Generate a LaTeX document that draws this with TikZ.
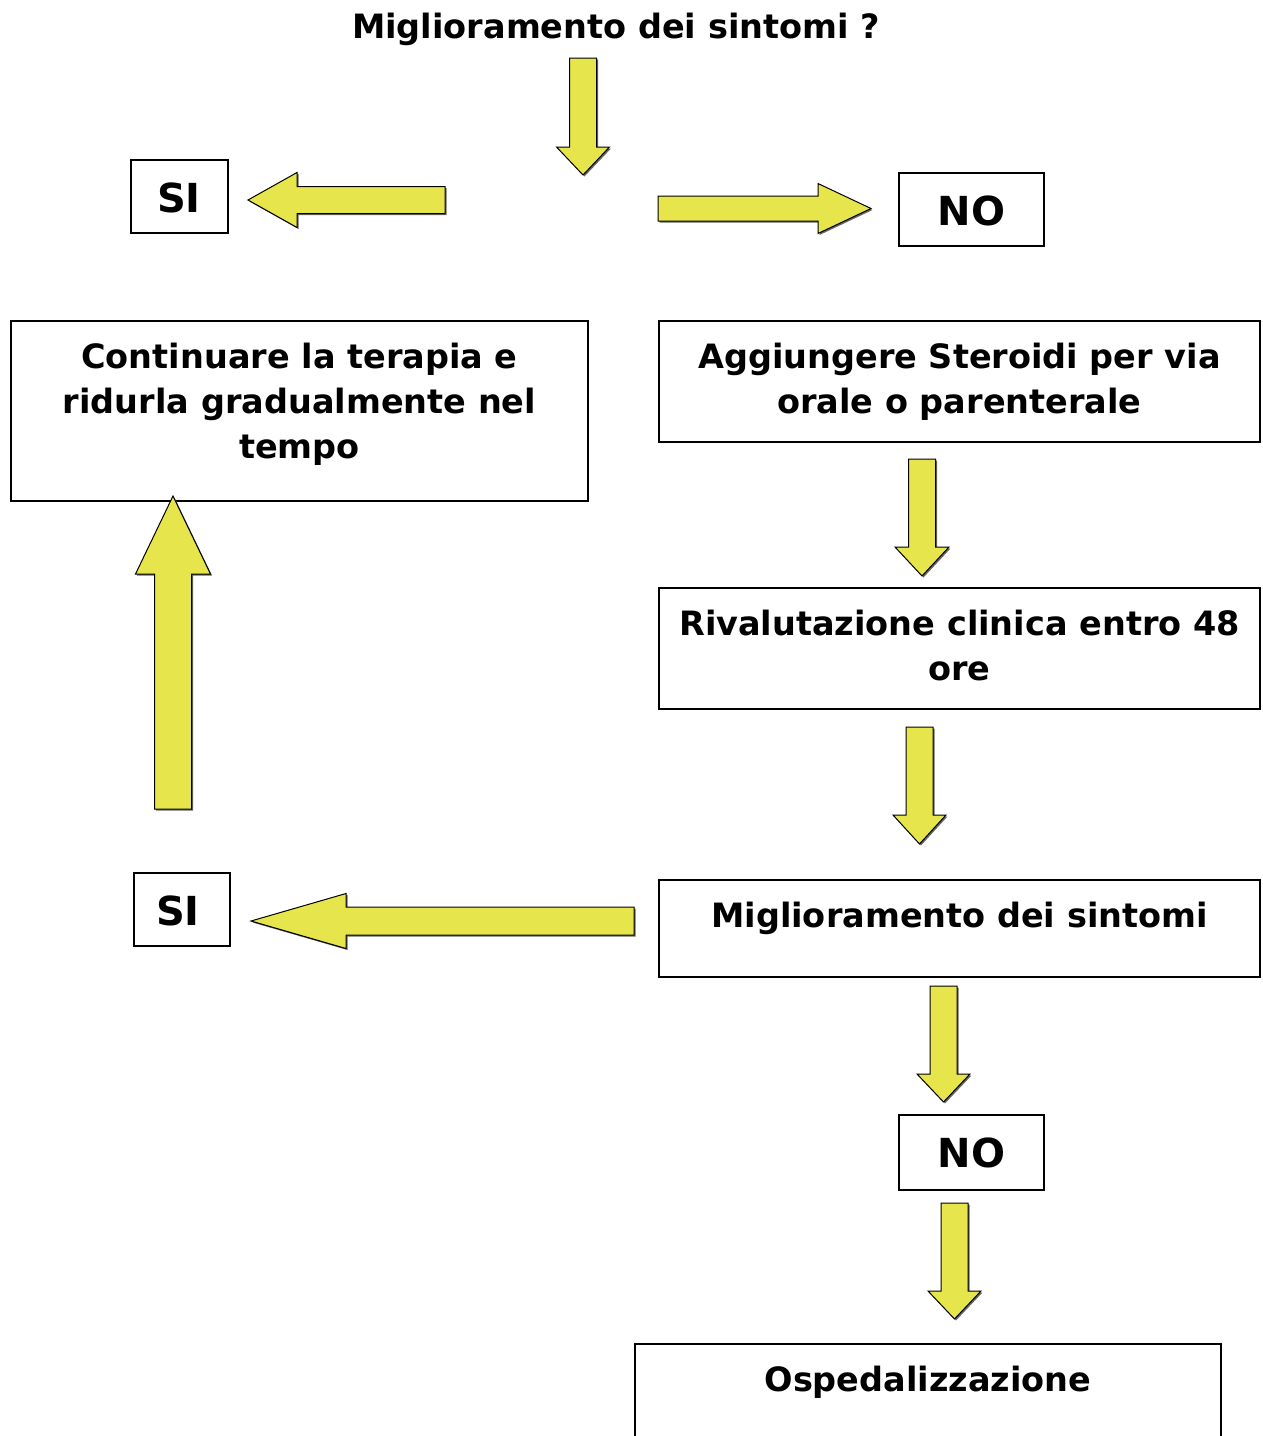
\documentclass[tikz,border=0pt]{standalone}
\usepackage{fontspec}
\setmainfont{DejaVu Sans}
\definecolor{arrowyellow}{HTML}{E6E64C}
\definecolor{shadowgray}{HTML}{666666}
\tikzset{
  arr/.style={fill=arrowyellow, draw=black, line width=1pt, line join=miter},
  arrshadow/.style={fill=shadowgray, draw=none},
  box/.style={draw=black, line width=2pt, fill=white},
  txt/.style={font=\fontsize{33.5}{45}\selectfont\bfseries, align=center, inner sep=0pt, anchor=north},
  yn/.style={font=\fontsize{40}{45}\selectfont\bfseries, inner sep=0pt},
}
% block arrows: vertical (x, tail y, tip y, shaft half, head half, head length signed)
\newcommand\barrowV[6]{%
  \draw[arrshadow] ({#1-#4+1.5},{#2+1.5}) -- ({#1+#4+1.5},{#2+1.5}) -- ({#1+#4+1.5},{#3-#6+1.5}) -- ({#1+#5+1.5},{#3-#6+1.5}) -- ({#1+1.5},{#3+1.5}) -- ({#1-#5+1.5},{#3-#6+1.5}) -- ({#1-#4+1.5},{#3-#6+1.5}) -- cycle;
  \draw[arr] ({#1-#4},{#2}) -- ({#1+#4},{#2}) -- ({#1+#4},{#3-#6}) -- ({#1+#5},{#3-#6}) -- ({#1},{#3}) -- ({#1-#5},{#3-#6}) -- ({#1-#4},{#3-#6}) -- cycle;}
% horizontal (y, tail x, tip x, shaft half, head half, head length signed)
\newcommand\barrowH[6]{%
  \draw[arrshadow] ({#2+1.5},{#1-#4+1.5}) -- ({#2+1.5},{#1+#4+1.5}) -- ({#3-#6+1.5},{#1+#4+1.5}) -- ({#3-#6+1.5},{#1+#5+1.5}) -- ({#3+1.5},{#1+1.5}) -- ({#3-#6+1.5},{#1-#5+1.5}) -- ({#3-#6+1.5},{#1-#4+1.5}) -- cycle;
  \draw[arr] ({#2},{#1-#4}) -- ({#2},{#1+#4}) -- ({#3-#6},{#1+#4}) -- ({#3-#6},{#1+#5}) -- ({#3},{#1}) -- ({#3-#6},{#1-#5}) -- ({#3-#6},{#1-#4}) -- cycle;}
\begin{document}
\begin{tikzpicture}[x=1pt, y=-1pt]
\useasboundingbox (0,0) rectangle (1263,1436);
\clip (0,0) rectangle (1263,1436);

% title
\node[txt] (title) at (616,13) {Miglioramento dei sintomi ?};

% boxes
\draw[box] (131,160) rectangle (228,233);
\node[yn] (si1) at (179,197.5) {SI};
\draw[box] (899,173) rectangle (1044,246);
\node[yn] (no1) at (971.5,211) {NO};

\draw[box] (11,321) rectangle (588,501);
\node[txt] (cont) at (299.5,343) {Continuare la terapia e\\ridurla gradualmente nel\\tempo};

\draw[box] (659,321) rectangle (1260,442);
\node[txt] (agg) at (959.5,343) {Aggiungere Steroidi per via\\orale o parenterale};

\draw[box] (659,588) rectangle (1260,709);
\node[txt] (riv) at (959.5,610) {Rivalutazione clinica entro 48\\ore};

\draw[box] (659,880) rectangle (1260,977);
\node[txt] (mig) at (959.5,902) {Miglioramento dei sintomi};

\draw[box] (134,873) rectangle (230,946);
\node[yn] (si2) at (178,911) {SI};

\draw[box] (899,1115) rectangle (1044,1190);
\node[yn] (no2) at (971.5,1152.5) {NO};

\draw[box] (635,1344) rectangle (1221,1446);
\node[txt] (osp) at (928,1366) {Ospedalizzazione};

% block arrows
\barrowV{583}{58}{175}{13.5}{26.5}{28}
\barrowH{200}{445}{248}{13.5}{27.5}{-49}
\barrowH{208.5}{658}{871}{12.5}{25}{53}
\barrowV{922}{459}{576}{13.5}{27}{29}
\barrowV{919.5}{727}{844}{13.5}{26.5}{29}
\barrowH{921}{634}{251}{14}{27.5}{-95}
\barrowV{173}{809}{496}{18.5}{37.5}{-78}
\barrowV{943.5}{986}{1102}{13.5}{26.5}{28}
\barrowV{954.5}{1203}{1319}{13.5}{26.5}{28}
\end{tikzpicture}
\end{document}
